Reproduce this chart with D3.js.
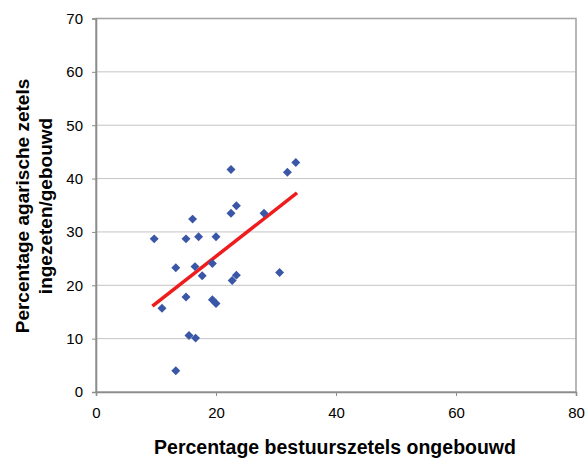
<!DOCTYPE html>
<html><head><meta charset="utf-8">
<script src="https://cdn.jsdelivr.net/npm/d3@7"></script>
<style>body{margin:0;background:#fff;}svg{display:block;font-family:"Liberation Sans",Arial,sans-serif;}</style>
</head><body>
<svg id="c" width="586" height="458"></svg>
<script>
const xValues = [9.7, 11.0, 13.3, 13.3, 15.0, 15.0, 15.5, 16.1, 16.5, 16.6, 17.1, 17.7, 19.4, 19.4, 20.0, 20.0, 22.5, 22.5, 22.7, 23.4, 23.4, 28.0, 30.6, 31.9, 33.3];
const yValues = [28.7, 15.7, 4.0, 23.3, 17.8, 28.7, 10.6, 32.4, 23.5, 10.1, 29.1, 21.8, 24.1, 17.3, 16.6, 29.1, 41.7, 33.5, 20.9, 34.9, 21.9, 33.5, 22.4, 41.2, 43.0];
const trendX = [9.4, 33.5];
const trendY = [16.1, 37.3];
const xTicks = [0, 20, 40, 60, 80];
const yTicks = [0, 10, 20, 30, 40, 50, 60, 70];
const xTitle = "Percentage bestuurszetels ongebouwd";
const yTitle = ["Percentage agarische zetels", "ingezeten/gebouwd"];

const svg = d3.select("#c");
const L = 96, R = 576, T = 18.5, B = 392;
const x = d3.scaleLinear().domain([0, 80]).range([L, R]);
const y = d3.scaleLinear().domain([0, 70]).range([B, T]);

// gridlines
svg.append("g").selectAll("line").data(yTicks.filter(d => d > 0 && d < 70)).join("line")
  .attr("x1", L).attr("x2", R).attr("y1", d => y(d)).attr("y2", d => y(d))
  .attr("stroke", "#c4c4c4").attr("stroke-width", 1);

// border
svg.append("rect").attr("x", L).attr("y", T).attr("width", R - L).attr("height", B - T)
  .attr("fill", "none").attr("stroke", "#a6a6a6").attr("stroke-width", 1.6);

// axes
const xAxis = svg.append("g").attr("transform", `translate(0,${B})`)
  .call(d3.axisBottom(x).tickValues(xTicks).tickSize(4).tickPadding(11).tickFormat(d3.format("d")));
const yAxis = svg.append("g").attr("transform", `translate(${L},0)`)
  .call(d3.axisLeft(y).tickValues(yTicks).tickSize(4).tickPadding(9).tickFormat(d3.format("d")));
[xAxis, yAxis].forEach(a => {
  a.select(".domain").attr("stroke", "#8c8c8c").attr("stroke-width", 1.6);
  a.selectAll(".tick line").attr("stroke", "#8c8c8c");
  a.selectAll("text").attr("font-size", 15).attr("fill", "#000")
    .attr("font-family", "'Liberation Sans', Arial, sans-serif");
});

// trend line
svg.append("line")
  .attr("x1", x(trendX[0])).attr("y1", y(trendY[0]))
  .attr("x2", x(trendX[1])).attr("y2", y(trendY[1]))
  .attr("stroke", "#ee1c1c").attr("stroke-width", 3.5);

// points
const sym = d3.symbol().type(d3.symbolSquare).size(40);
svg.append("g").selectAll("path").data(xValues.map((v, i) => [v, yValues[i]])).join("path")
  .attr("d", sym)
  .attr("transform", d => `translate(${x(d[0])},${y(d[1])}) rotate(45)`)
  .attr("fill", "#3a56a6");

// titles
svg.append("text").attr("x", 335).attr("y", 454).attr("text-anchor", "middle")
  .attr("font-size", 19.5).attr("font-weight", "bold").text(xTitle);
const yt = svg.append("text").attr("transform", "translate(0,206) rotate(-90)")
  .attr("text-anchor", "middle").attr("font-size", 19).attr("font-weight", "bold");
yt.append("tspan").attr("x", 0).attr("y", 29).text(yTitle[0]);
yt.append("tspan").attr("x", 0).attr("y", 52).text(yTitle[1]);
</script>
</body></html>
